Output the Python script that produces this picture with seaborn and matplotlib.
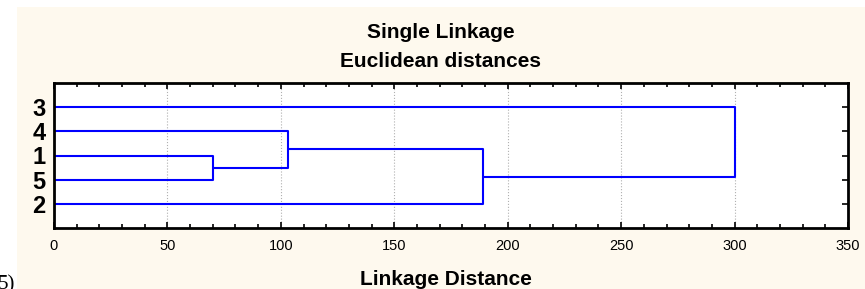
import numpy as np
import pandas as pd
import seaborn as sns
import matplotlib.pyplot as plt
from matplotlib.patches import Rectangle
from matplotlib.ticker import MultipleLocator

# Leaves from top to bottom, and the single-linkage merge steps
leaf_order = ['3', '4', '1', '5', '2']
merge_left = ['1', 'C1', 'C2', 'C3']
merge_right = ['5', '4', '2', '3']
merge_heights = [70, 103, 189, 300]

x_ticks = [0, 50, 100, 150, 200, 250, 300, 350]

sns.set_theme(style='white')
plt.rcParams['font.family'] = ['Liberation Sans', 'DejaVu Sans']
plt.rcParams['text.color'] = 'black'
plt.rcParams['xtick.color'] = 'black'
plt.rcParams['ytick.color'] = 'black'
plt.rcParams['axes.labelcolor'] = 'black'

# y position of each leaf (top leaf highest), height 0
nodes = {}
n = len(leaf_order)
for i, lab in enumerate(leaf_order):
    nodes[lab] = (n - i, 0.0)

# build the U-shaped links of the dendrogram
rows = []
for k, (a, b, h) in enumerate(zip(merge_left, merge_right, merge_heights)):
    ya, ha = nodes[a]
    yb, hb = nodes[b]
    pts = [(ha, ya), (h, ya), (h, yb), (hb, yb)]
    for j, (x, y) in enumerate(pts):
        rows.append({'link': k, 'order': j, 'dist': x, 'pos': y})
    nodes['C%d' % (k + 1)] = ((ya + yb) / 2.0, h)
links = pd.DataFrame(rows)

fig = plt.figure(figsize=(8.65, 2.89), dpi=100)
fig.patch.set_facecolor('white')
fig.patches.append(Rectangle((17 / 865, 0), 1 - 17 / 865, 1 - 7 / 289,
                             transform=fig.transFigure, facecolor='#fef9ee',
                             edgecolor='none', zorder=-10))

ax = fig.add_axes([54 / 865, 1 - 228 / 289, (848 - 54) / 865, (228 - 83) / 289])
ax.set_zorder(2)
ax.set_facecolor('white')

sns.lineplot(data=links, x='dist', y='pos', units='link', estimator=None,
             sort=False, color='#0000ff', linewidth=1.5, ax=ax, legend=False)

ax.set_xlim(0, 350)
ax.set_ylim(0, n + 1)
ax.set_xticks(x_ticks)
ax.set_xticklabels([str(t) for t in x_ticks], fontsize=10.5)
ax.xaxis.set_minor_locator(MultipleLocator(10))
ax.set_yticks(range(n, 0, -1))
ax.set_yticklabels(leaf_order, fontsize=17, fontweight='bold')
ax.set_xlabel('')
ax.set_ylabel('')

ax.tick_params(axis='x', which='both', direction='in', top=True, bottom=True,
               color='black', width=1.2, pad=8)
ax.tick_params(axis='x', which='major', length=4)
ax.tick_params(axis='x', which='minor', length=3)
ax.tick_params(axis='y', which='both', direction='in', left=False, right=True,
               length=4, width=1.2, color='black', pad=6, labelleft=True)

ax.grid(axis='x', which='major', linestyle=':', color='#b0b0b0', linewidth=0.8)
for s in ax.spines.values():
    s.set_visible(True)
    s.set_color('black')
    s.set_linewidth(2)

fig.text(441 / 865, 1 - 38 / 289, 'Single Linkage', ha='center', va='baseline',
         fontsize=15, fontweight='bold')
fig.text(441 / 865, 1 - 67 / 289, 'Euclidean distances', ha='center',
         va='baseline', fontsize=15, fontweight='bold')
fig.text(446 / 865, 1 - 285 / 289, 'Linkage Distance', ha='center',
         va='baseline', fontsize=15, fontweight='bold')
# cut-off figure label from the source page
fig.text(15 / 865, 1 - 275 / 289, '5)', ha='right', va='top', fontsize=15,
         family='Liberation Serif')

fig.savefig('out.png', dpi=100)
